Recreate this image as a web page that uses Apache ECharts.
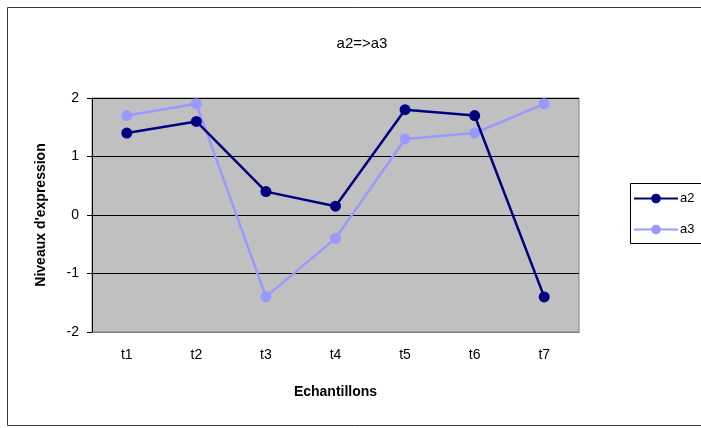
<!DOCTYPE html>
<html>
<head>
<meta charset="utf-8">
<script src="https://cdn.jsdelivr.net/npm/echarts@6/dist/echarts.min.js"></script>
<style>
  html, body { margin: 0; padding: 0; background: #fff; }
  #chart { width: 701px; height: 428px; }
</style>
</head>
<body>
<div id="chart"></div>
<script>
// Sample labels and expression levels for the two genes
const categories = ['t1', 't2', 't3', 't4', 't5', 't6', 't7'];
const a2Values = [1.4, 1.6, 0.4, 0.15, 1.8, 1.7, -1.4];
const a3Values = [1.7, 1.9, -1.4, -0.4, 1.3, 1.4, 1.9];
const seriesNames = ['a2', 'a3'];
const yTicks = { min: -2, max: 2, step: 1 };

const FONT = 'Arial, "Liberation Sans", sans-serif';

const chart = echarts.init(document.getElementById('chart'), null, { renderer: 'canvas' });

chart.setOption({
  animation: false,
  backgroundColor: '#ffffff',
  title: {
    text: 'a2=>a3',
    left: 357,
    top: 31,
    textAlign: 'center',
    textStyle: { fontFamily: FONT, fontSize: 15, fontWeight: 'normal', color: '#000' }
  },
  graphic: [
    {
      // outer chart frame, running past the right edge
      type: 'rect',
      shape: { x: 7.5, y: 7.5, width: 760, height: 418 },
      style: { fill: 'none', stroke: '#3a3a3a', lineWidth: 1 },
      z: 100
    },
    {
      // legend box, also running past the right edge
      type: 'rect',
      shape: { x: 630.5, y: 183.5, width: 120, height: 60 },
      style: { fill: '#fff', stroke: '#000', lineWidth: 1 },
      z: 1
    }
  ],
  legend: {
    orient: 'vertical',
    left: 631,
    top: 184,
    data: seriesNames,
    itemWidth: 44,
    itemHeight: 12,
    itemGap: 18,
    padding: [8, 5, 8, 2],
    textStyle: { fontFamily: FONT, fontSize: 13, color: '#000', padding: [0, 0, 0, -3] }
  },
  grid: {
    left: 92,
    top: 98,
    width: 487,
    height: 234,
    show: true,
    backgroundColor: '#c0c0c0',
    borderColor: '#808080',
    borderWidth: 1
  },
  xAxis: {
    type: 'category',
    data: categories,
    boundaryGap: true,
    name: 'Echantillons',
    nameLocation: 'middle',
    nameGap: 53,
    nameTextStyle: { fontFamily: FONT, fontSize: 14, fontWeight: 'bold', color: '#000' },
    axisLine: { show: true, onZero: false, lineStyle: { color: '#808080', width: 1 } },
    axisTick: { show: false },
    axisLabel: { fontFamily: FONT, fontSize: 14, color: '#000', margin: 16 },
    splitLine: { show: false }
  },
  yAxis: {
    type: 'value',
    min: yTicks.min,
    max: yTicks.max,
    interval: yTicks.step,
    name: "Niveaux d'expression",
    nameLocation: 'middle',
    nameGap: 44,
    nameTextStyle: { fontFamily: FONT, fontSize: 14, fontWeight: 'bold', color: '#000' },
    axisLine: { show: true, lineStyle: { color: '#000', width: 1 } },
    axisTick: { show: true, inside: false, length: 5, lineStyle: { color: '#000' } },
    axisLabel: { fontFamily: FONT, fontSize: 14, color: '#000', margin: 13 },
    splitLine: { show: true, lineStyle: { color: '#000', width: 1 } }
  },
  series: [
    {
      name: seriesNames[0],
      type: 'line',
      data: a2Values,
      symbol: 'circle',
      symbolSize: 11,
      lineStyle: { color: '#000080', width: 2.5 },
      itemStyle: { color: '#000080' },
      z: 3
    },
    {
      name: seriesNames[1],
      type: 'line',
      data: a3Values,
      symbol: 'circle',
      symbolSize: 11,
      lineStyle: { color: '#9999ff', width: 2.5 },
      itemStyle: { color: '#9999ff' },
      z: 2
    }
  ]
});
</script>
</body>
</html>
